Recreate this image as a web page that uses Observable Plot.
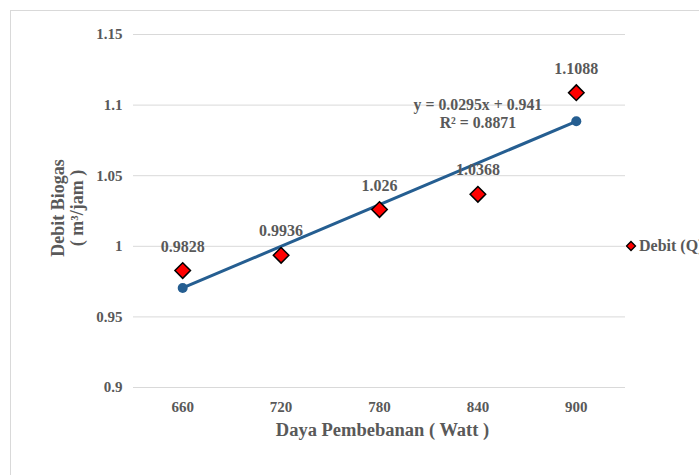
<!DOCTYPE html>
<html>
<head>
<meta charset="utf-8">
<script src="https://cdn.jsdelivr.net/npm/d3@7"></script>
<script src="https://cdn.jsdelivr.net/npm/@observablehq/plot@0.6"></script>
<style>
  html, body { margin: 0; padding: 0; background: #fff; overflow: hidden; }
  #wrap { position: relative; width: 699px; height: 475px; font-family: "Liberation Serif", serif; }
  #chart svg, #chart svg text { font-family: "Liberation Serif", "Times New Roman", serif !important; font-weight: bold; }
  #frame { position: absolute; left: 10px; top: 10px; width: 720px; height: 500px; border: 1px solid #d9d9d9; box-sizing: border-box; pointer-events: none; }
  #legend { position: absolute; left: 624px; top: 237px; display: flex; align-items: center; white-space: nowrap; font-weight: bold; font-size: 16px; color: #595959; font-family: "Liberation Serif", serif; }
</style>
</head>
<body>
<div id="wrap">
  <div id="chart"></div>
  <div id="frame"></div>
  <div id="legend"><svg width="14" height="14"><path d="M7,2.5 L11.5,7 L7,11.5 L2.5,7 Z" fill="#ff0000" stroke="#000" stroke-width="1.3"/></svg><span style="margin-left:1px">Debit (Q)</span></div>
</div>
<script>
const daya = [660, 720, 780, 840, 900];
const debit = [0.9828, 0.9936, 1.026, 1.0368, 1.1088];
const trendX = [660, 900];
const trendY = [0.9705, 1.0885];
const yTicks = [0.9, 0.95, 1, 1.05, 1.1, 1.15];
const xTicks = [660, 720, 780, 840, 900];
const eqLines = ["y = 0.0295x + 0.941", "R² = 0.8871"];
const eqX = 840, eqY = 1.1;

const points = daya.map((x, i) => ({x, y: debit[i], label: String(debit[i])}));
const trend = trendX.map((x, i) => ({x, y: trendY[i]}));

const textColor = "#595959";
const ff = "Liberation Serif";

const plot = Plot.plot({
  width: 699,
  height: 475,
  marginLeft: 133,
  marginRight: 74,
  marginTop: 34,
  marginBottom: 88,
  style: {fontFamily: ff, fontWeight: "bold", fontSize: "13px", color: textColor, background: "transparent"},
  x: {domain: [630, 930]},
  y: {domain: [0.9, 1.15]},
  marks: [
    Plot.gridY(yTicks, {stroke: "#d9d9d9", strokeOpacity: 1, strokeWidth: 1}),
    Plot.axisY(yTicks, {tickSize: 0, tickPadding: 11, tickFormat: d => String(d), fill: textColor, fontSize: 15, fontFamily: ff, label: null}),
    Plot.axisX(xTicks, {tickSize: 0, tickPadding: 14, tickFormat: d => String(d), fill: textColor, fontSize: 15, fontFamily: ff, label: null}),
    Plot.text(["Debit Biogas"], {frameAnchor: "left", textAnchor: "middle", dx: -75, dy: -3, rotate: -90, text: d => d, fontSize: 18, fontFamily: ff, fill: textColor}),
    Plot.text(["( m³/jam )"], {frameAnchor: "left", textAnchor: "middle", dx: -56, dy: -3, rotate: -90, text: d => d, fontSize: 18, fontFamily: ff, fill: textColor}),
    Plot.text(["Daya Pembebanan ( Watt )"], {frameAnchor: "bottom", dy: 48, dx: 3, text: d => d, fontSize: 18.5, fontFamily: ff, fill: textColor}),
    Plot.line(trend, {x: "x", y: "y", stroke: "#255e91", strokeWidth: 3}),
    Plot.dot(trend, {x: "x", y: "y", r: 5, fill: "#255e91", stroke: "none"}),
    Plot.dot(points, {x: "x", y: "y", symbol: "diamond2", r: 7, fill: "#ff0000", stroke: "#000", strokeWidth: 1.5}),
    Plot.text(points, {x: "x", y: "y", text: "label", dy: -24, fontSize: 16, fontFamily: ff, fill: textColor}),
    Plot.text([eqLines.join("\n")], {x: () => eqX, y: () => eqY, text: d => d, dy: 8, fontSize: 15.8, fontFamily: ff, fill: textColor, lineHeight: 1.15})
  ]
});
document.getElementById("chart").appendChild(plot);
</script>
</body>
</html>
